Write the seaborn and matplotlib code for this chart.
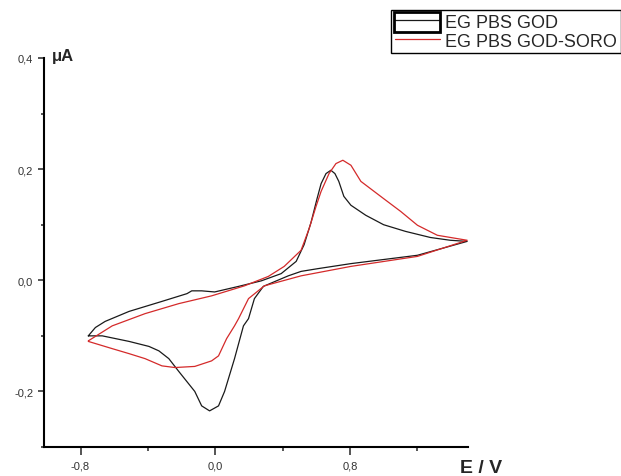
import matplotlib
matplotlib.use("Agg")
import matplotlib.pyplot as plt
from matplotlib.patches import Rectangle
from matplotlib.ticker import FuncFormatter, MultipleLocator
import seaborn as sns

# cyclic voltammograms, E (V) and I (uA)
series_labels = ["EG PBS GOD", "EG PBS GOD-SORO"]

god_e = [-0.754, -0.712, -0.654, -0.512, -0.317, -0.168, -0.140, -0.081, -0.004, 0.138,
         0.273, 0.391, 0.480, 0.527, 0.568, 0.604, 0.628, 0.657, 0.686, 0.710, 0.733,
         0.763, 0.805, 0.893, 0.999, 1.129, 1.277, 1.395, 1.495,
         1.200, 0.805, 0.610, 0.509, 0.433, 0.285, 0.232, 0.197, 0.167, 0.114, 0.055,
         0.019, -0.034, -0.081, -0.122, -0.217, -0.276, -0.335, -0.394, -0.512, -0.671,
         -0.754]
god_i = [-0.100, -0.085, -0.074, -0.056, -0.038, -0.024, -0.019, -0.019, -0.021, -0.011,
         -0.001, 0.012, 0.034, 0.064, 0.104, 0.147, 0.174, 0.192, 0.198, 0.192, 0.178,
         0.151, 0.135, 0.117, 0.100, 0.088, 0.077, 0.072, 0.070,
         0.045, 0.030, 0.021, 0.016, 0.008, -0.011, -0.033, -0.069, -0.082, -0.141, -0.200,
         -0.226, -0.235, -0.226, -0.200, -0.164, -0.141, -0.127, -0.119, -0.110, -0.100,
         -0.100]

soro_e = [-0.754, -0.612, -0.417, -0.217, -0.022, 0.173, 0.315, 0.409, 0.509, 0.557,
          0.598, 0.628, 0.675, 0.716, 0.757, 0.805, 0.864, 0.999, 1.100, 1.200, 1.318,
          1.436, 1.495,
          1.200, 0.805, 0.509, 0.291, 0.197, 0.138, 0.114, 0.067, 0.019, -0.022, -0.122,
          -0.240, -0.317, -0.417, -0.512, -0.612, -0.754]
soro_i = [-0.109, -0.082, -0.060, -0.042, -0.028, -0.010, 0.007, 0.025, 0.054, 0.093,
          0.133, 0.160, 0.192, 0.210, 0.216, 0.207, 0.178, 0.147, 0.124, 0.099, 0.081,
          0.075, 0.072,
          0.043, 0.025, 0.008, -0.010, -0.033, -0.069, -0.082, -0.105, -0.136, -0.145, -0.155,
          -0.157, -0.154, -0.141, -0.132, -0.123, -0.110]

x_ticks = [-0.8, 0.0, 0.8]
y_ticks = [-0.2, 0.0, 0.2, 0.4]

sns.set_style("ticks")
plt.rcParams["font.family"] = ["Liberation Sans", "DejaVu Sans"]

W, H = 621, 477
fig = plt.figure(figsize=(W / 100, H / 100), dpi=100)
ax = fig.add_axes([44 / W, 29 / H, 424 / W, 389 / H])

sns.lineplot(x=god_e, y=god_i, sort=False, estimator=None, color="#1a1a1a",
             lw=0.9, ax=ax, label=series_labels[0])
sns.lineplot(x=soro_e, y=soro_i, sort=False, estimator=None, color="#d42a2a",
             lw=0.9, ax=ax, label=series_labels[1])

ax.set_xlim(-1.017, 1.5)
ax.set_ylim(-0.3, 0.4)
ax.set_xticks(x_ticks)
ax.set_yticks(y_ticks)
ax.xaxis.set_minor_locator(MultipleLocator(0.4))
ax.yaxis.set_minor_locator(MultipleLocator(0.1))
comma = FuncFormatter(lambda v, _: f"{v:.1f}".replace(".", ","))
ax.xaxis.set_major_formatter(comma)
ax.yaxis.set_major_formatter(comma)

sns.despine(ax=ax)
for s in ("left", "bottom"):
    ax.spines[s].set_linewidth(1.5)
    ax.spines[s].set_color("black")

ax.tick_params(axis="x", which="major", length=5.5, width=1.1, pad=4.5,
               labelsize=8, labelcolor="#333333")
ax.tick_params(axis="x", which="minor", length=3, width=1.1)
ax.tick_params(axis="y", which="major", length=4.3, width=1.1, pad=3.5,
               labelsize=8, labelcolor="#333333")
ax.tick_params(axis="y", which="minor", length=2.2, width=1.1)
ax.set_xlabel("")
ax.set_ylabel("")

fig.text(52 / W, 1 - 57 / H, "\u03bcA", fontsize=12, fontweight="bold", va="center", ha="left")
fig.text(460 / W, 1 - 469 / H, "E / V", fontsize=14, fontweight="bold", va="center", ha="left")

handles, labels = ax.get_legend_handles_labels()
ax.get_legend().remove()
leg = fig.legend(handles, labels, loc="upper left", bbox_to_anchor=(391 / W, 1 - 11 / H),
                 borderaxespad=0, fontsize=13, frameon=True, fancybox=False,
                 framealpha=1, edgecolor="black", borderpad=0.2, labelspacing=0.12,
                 handlelength=2.5, handletextpad=0.3)
leg.get_frame().set_linewidth(1.0)
fig.add_artist(Rectangle((394 / W, 1 - 33 / H), 46 / W, 20 / H, transform=fig.transFigure,
                         fill=False, lw=2, ec="black", zorder=10))

fig.savefig("out.png", dpi=100)
